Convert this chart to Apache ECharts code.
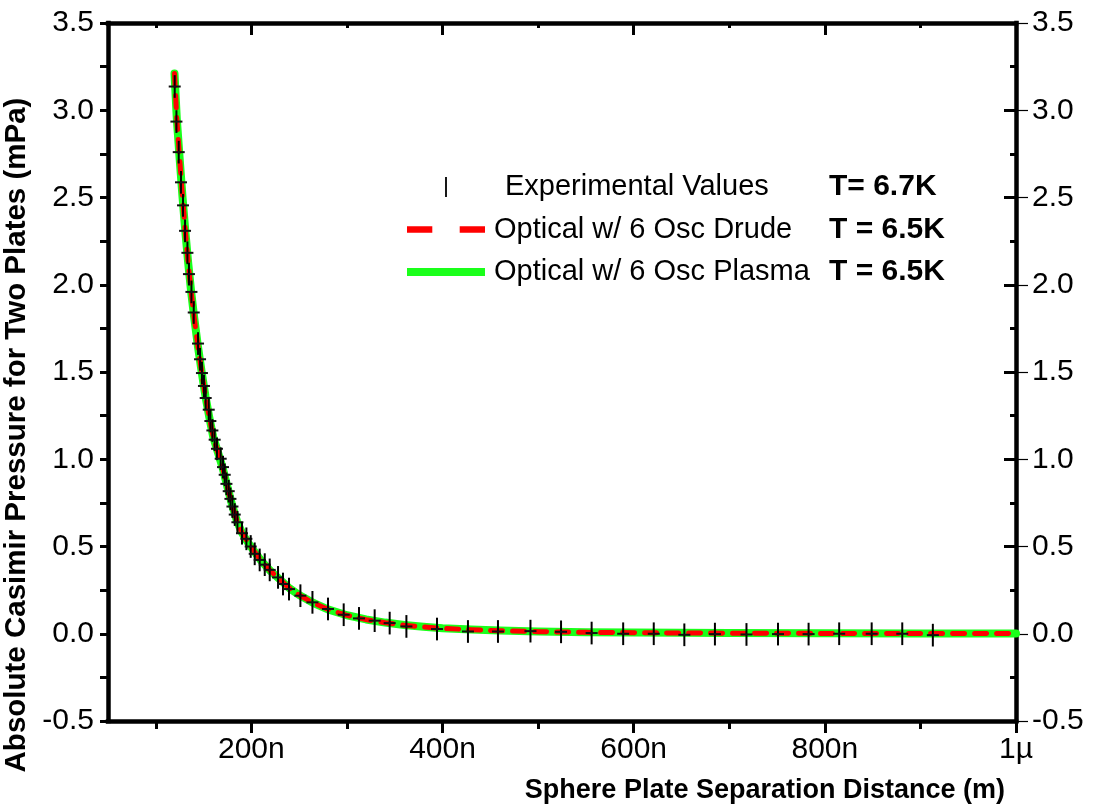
<!DOCTYPE html>
<html><head><meta charset="utf-8">
<script src="https://cdn.jsdelivr.net/npm/echarts@6/dist/echarts.min.js"></script>
<style>html,body{margin:0;padding:0;background:#fff}#c{width:1094px;height:809px}</style>
</head><body><div id="c"></div>
<script>
// Experimental values (separation in nm, pressure in mPa)
const expX = [119.8,121.6,124,126.4,128.5,130.6,133.1,134.7,137.3,139.7,144.2,146.3,148.3,150.4,152.2,155.4,157.1,159.2,161.6,164,
  167.9,170.3,172.1,173.9,176.3,178.1,180.2,182.6,185.4,190.2,194.8,199.3,203.5,208.7,214,219.2,227.9,233.1,239.4,251.3,
  263.9,280.2,296.6,312.6,329,344.7,362.2,394.2,426.6,458,492,524,556,589,621,653,685,718,751,783,815,849,881,913];
const expY = [3.136,2.935,2.76,2.587,2.455,2.309,2.183,2.061,1.959,1.841,1.663,1.573,1.494,1.42,1.351,1.284,1.219,1.165,1.112,1.06,
  1.003,0.955,0.911,0.859,0.817,0.773,0.729,0.683,0.639,0.576,0.544,0.5,0.458,0.423,0.396,0.366,0.323,0.285,0.256,0.218,
  0.18,0.142,0.109,0.088,0.075,0.061,0.042,0.027,0.013,0.013,0.015,0.011,0.004,0,0,-0.006,-0.002,-0.004,-0.002,-0.002,0,0,0,-0.008];
const expErr = 0.065;

// Theory curves
const curveX = [119.6,122,125,128,131,134,137,140,144,148,152,156,160,165,170,175,180,185,190,195,200,210,220,230,240,250,265,280,
  300,320,340,360,380,400,430,460,500,550,600,700,800,900,1000];
const drudeY = [3.21,2.95,2.72,2.50,2.30,2.12,1.96,1.82,1.65,1.50,1.36,1.24,1.13,1.04,0.95,0.84,0.735,0.645,0.58,0.535,0.495,0.42,0.36,0.31,0.26,0.222,0.176,0.14,
  0.105,0.081,0.063,0.049,0.039,0.031,0.023,0.017,0.012,0.008,0.006,0.003,0.002,0.0015,0.001];
const plasmaY = [3.21,2.95,2.72,2.50,2.30,2.12,1.96,1.82,1.65,1.50,1.36,1.24,1.13,1.04,0.95,0.84,0.735,0.645,0.58,0.535,0.495,0.42,0.36,0.31,0.26,0.222,0.176,0.14,
  0.106,0.082,0.064,0.050,0.040,0.032,0.024,0.018,0.013,0.009,0.007,0.004,0.003,0.002,0.0015];

const xMajorTicks = [200,400,600,800,1000];
const xMajorLabels = ['200n','400n','600n','800n','1µ'];
const xMinorTicks = [100,300,500,700,900];
const legendNames = ['Experimental Values','Optical w/ 6 Osc Drude','Optical w/ 6 Osc Plasma'];
const legendTemps = ['T= 6.7K','T = 6.5K','T = 6.5K'];

const FONT = 'Liberation Sans, Arial, sans-serif';
const chart = echarts.init(document.getElementById('c'), null, {renderer:'canvas'});
const axisLineStyle = {color:'#000', width:4.5, cap:'square'};

const option = {
  animation:false,
  backgroundColor:'#fff',
  grid:{left:108, right:78, top:23, bottom:88, containLabel:false, outerBoundsMode:'none'},
  legend:{
    orient:'vertical', left:402, top:167, itemWidth:78, itemHeight:20, itemGap:12.5,
    selectedMode:false,
    data:[
      {name:legendNames[0], icon:'path://M0,0h2v22h-2z'},
      {name:legendNames[1], icon:'path://M0,0h24v6h-24zM50,0h24v6h-24z'},
      {name:legendNames[2], icon:'path://M0,0h78v8h-78z'}
    ],
    formatter:function(name){
      const i = legendNames.indexOf(name);
      if (i === 0) return '{sp1| }{a1|' + name + '}{b|' + legendTemps[i] + '}';
      return '{sp| }{a|' + name + '}{b|' + legendTemps[i] + '}';
    },
    textStyle:{
      color:'#000', fontFamily:FONT, fontSize:29, lineHeight:30,
      rich:{
        sp:{width:4, fontSize:29, lineHeight:30},
        sp1:{width:15, fontSize:29, lineHeight:30},
        a:{width:335, fontSize:29, fontFamily:FONT, color:'#000', lineHeight:30},
        a1:{width:324, fontSize:29, fontFamily:FONT, color:'#000', lineHeight:30},
        b:{fontSize:30, fontWeight:'bold', fontFamily:FONT, color:'#000', lineHeight:30}
      }
    }
  },
  xAxis:[
    {type:'value', position:'bottom', min:50, max:1000,
     axisLine:{show:true, onZero:false, lineStyle:axisLineStyle},
     axisTick:{show:true, customValues:xMajorTicks, length:12, lineStyle:{color:'#000', width:3}},
     axisLabel:{show:true, customValues:xMajorTicks, margin:14, fontSize:30, fontFamily:FONT, color:'#000',
       formatter:function(v){ const i = xMajorTicks.indexOf(v); return i>=0 ? xMajorLabels[i] : ''; }},
     splitLine:{show:false},
     name:'Sphere Plate Separation Distance (m)', nameLocation:'end', nameGap:-11,
     nameTextStyle:{fontFamily:FONT, fontWeight:'bold', fontSize:27, color:'#000',
       align:'right', verticalAlign:'top', padding:[56,0,0,0]}
    },
    {type:'value', position:'bottom', min:50, max:1000,
     axisLine:{show:false, onZero:false}, axisLabel:{show:false}, splitLine:{show:false},
     axisTick:{show:true, customValues:xMinorTicks, length:8, lineStyle:{color:'#000', width:3}}},
    {type:'value', position:'top', min:50, max:1000,
     axisLine:{show:true, onZero:false, lineStyle:axisLineStyle}, axisLabel:{show:false}, splitLine:{show:false},
     axisTick:{show:true, inside:true, customValues:xMajorTicks, length:12, lineStyle:{color:'#000', width:3}}},
    {type:'value', position:'top', min:50, max:1000,
     axisLine:{show:false, onZero:false}, axisLabel:{show:false}, splitLine:{show:false},
     axisTick:{show:true, inside:true, customValues:xMinorTicks, length:5, lineStyle:{color:'#000', width:3}}}
  ],
  yAxis:[
    {type:'value', position:'left', min:-0.5, max:3.5, interval:0.5,
     axisLine:{show:true, onZero:false, lineStyle:axisLineStyle},
     axisTick:{show:true, length:8, lineStyle:{color:'#000', width:3}},
     minorTick:{show:true, splitNumber:2, length:8, lineStyle:{color:'#000', width:3}},
     axisLabel:{margin:14, fontSize:30, fontFamily:FONT, color:'#000', formatter:function(v){return v.toFixed(1);}},
     splitLine:{show:false}, minorSplitLine:{show:false},
     name:'Absolute Casimir Pressure for Two Plates (mPa)', nameLocation:'middle', nameGap:73, nameRotate:90,
     nameTextStyle:{fontFamily:FONT, fontWeight:'bold', fontSize:29.5, color:'#000',
       padding:[0,126,0,0]}
    },
    {type:'value', position:'right', min:-0.5, max:3.5, interval:0.5,
     axisLine:{show:true, onZero:false, lineStyle:axisLineStyle},
     axisTick:{show:true, inside:true, length:12, lineStyle:{color:'#000', width:3}},
     minorTick:{show:true, splitNumber:2, length:6, lineStyle:{color:'#000', width:3}},
     axisLabel:{margin:16, fontSize:30, fontFamily:FONT, color:'#000', formatter:function(v){return v.toFixed(1);}},
     splitLine:{show:false}
    },
    {type:'value', position:'right', min:-0.5, max:3.5, interval:0.5,
     axisLine:{show:false, onZero:false}, axisLabel:{show:false}, splitLine:{show:false},
     axisTick:{show:true, inside:false, length:12, lineStyle:{color:'#000', width:1.2}}}
  ],
  series:[
    {name:legendNames[2], type:'line', xAxisIndex:0, yAxisIndex:0, symbol:'none', showSymbol:false,
     data:curveX.map((x,i)=>[x, plasmaY[i]]),
     color:'#1aff1a', itemStyle:{color:'#1aff1a'},
     lineStyle:{color:'#1aff1a', width:8, cap:'round', join:'round'}, z:2},
    {name:legendNames[1], type:'line', xAxisIndex:0, yAxisIndex:0, symbol:'none', showSymbol:false,
     data:curveX.map((x,i)=>[x, drudeY[i]]),
     color:'#ff0000', itemStyle:{color:'#ff0000'},
     lineStyle:{color:'#ff0000', width:5, type:[12,10], cap:'round', join:'round'}, z:3},
    {name:legendNames[0], type:'custom', xAxisIndex:0, yAxisIndex:0,
     data:expX.map((x,i)=>[x, expY[i]]),
     encode:{x:0, y:1},
     color:'#000', itemStyle:{color:'#000'}, z:4,
     renderItem:function(params, api){
       const x = api.value(0), y = api.value(1);
       const top = api.coord([x, y + expErr]);
       const bot = api.coord([x, y - expErr]);
       const c = api.coord([x, y]);
       return {type:'group', children:[
         {type:'line', shape:{x1:top[0], y1:top[1], x2:bot[0], y2:bot[1]}, style:{stroke:'#000', lineWidth:2}},
         {type:'line', shape:{x1:c[0]-6, y1:c[1], x2:c[0]+6, y2:c[1]}, style:{stroke:'#111', lineWidth:2}}
       ]};
     }}
  ]
};
chart.setOption(option);
</script>
</body></html>
